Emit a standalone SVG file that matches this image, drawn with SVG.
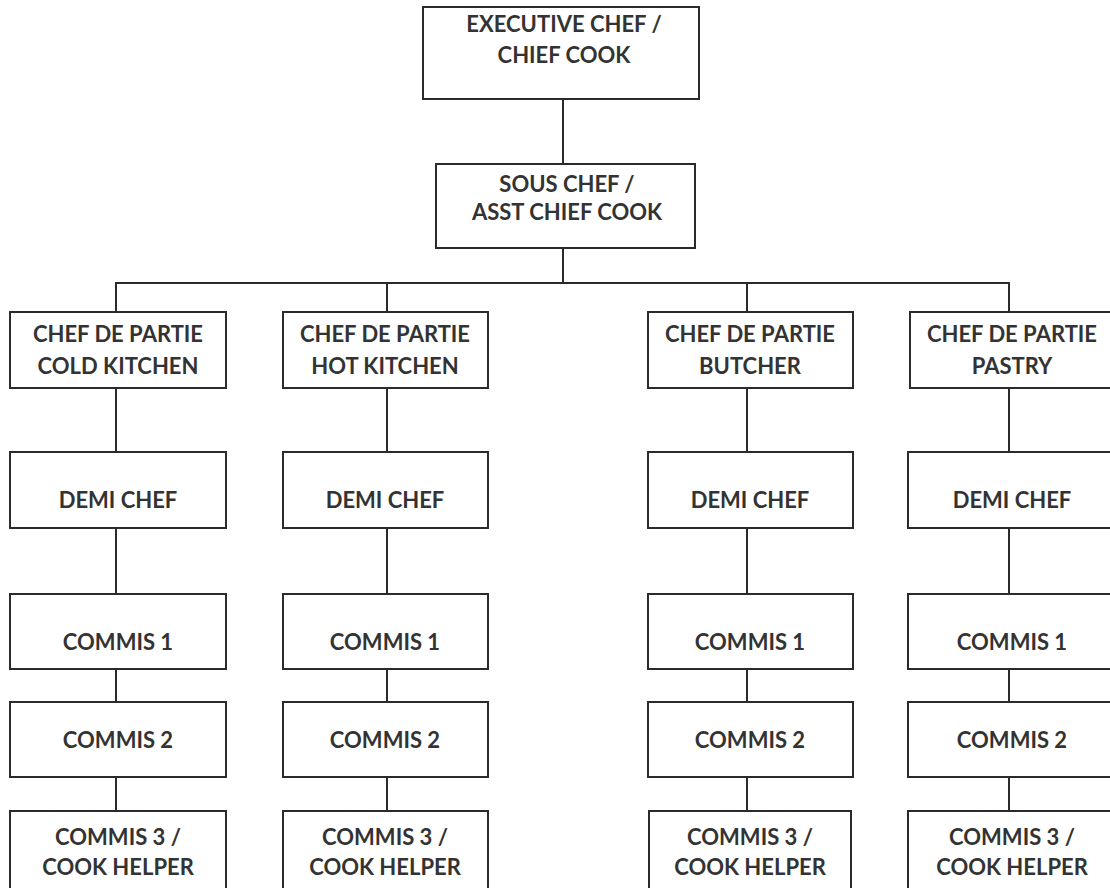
<svg xmlns="http://www.w3.org/2000/svg" width="1110" height="888" viewBox="0 0 1110 888">
<style>
.box{fill:#fff;stroke:#2b2b2b;stroke-width:2}
.t{font-family:Lato,"Open Sans","Liberation Sans",sans-serif;font-weight:bold;font-size:22px;fill:#333;text-anchor:middle}
.c{stroke:#2b2b2b;stroke-width:2;fill:none}
</style>
<rect width="1110" height="888" fill="#fff"/>
<g id="connectors">
<line class="c" x1="563" y1="99" x2="563" y2="164"/>
<line class="c" x1="563" y1="248" x2="563" y2="283"/>
<polyline class="c" points="116,312 116,283 1009,283 1009,312"/>
<line class="c" x1="387" y1="283" x2="387" y2="312"/>
<line class="c" x1="747" y1="283" x2="747" y2="312"/>
<line class="c" x1="116" y1="388" x2="116" y2="811"/>
<line class="c" x1="387" y1="388" x2="387" y2="811"/>
<line class="c" x1="747" y1="388" x2="747" y2="811"/>
<line class="c" x1="1009" y1="388" x2="1009" y2="811"/>
</g>
<g id="exec"><rect class="box" x="423" y="7" width="276" height="92"/><text class="t" x="564" y="32">EXECUTIVE CHEF /</text><text class="t" x="564" y="63">CHIEF COOK</text></g>
<g id="sous"><rect class="box" x="436" y="164" width="259" height="84"/><text class="t" x="567" y="192">SOUS CHEF /</text><text class="t" x="567" y="220">ASST CHIEF COOK</text></g>
<g id="cdp-cold"><rect class="box" x="10" y="312" width="216" height="76"/><text class="t" x="118" y="342">CHEF DE PARTIE</text><text class="t" x="118" y="374">COLD KITCHEN</text></g>
<g id="cdp-hot"><rect class="box" x="283" y="312" width="205" height="76"/><text class="t" x="385" y="342">CHEF DE PARTIE</text><text class="t" x="385" y="374">HOT KITCHEN</text></g>
<g id="cdp-butcher"><rect class="box" x="648" y="312" width="205" height="76"/><text class="t" x="750" y="342">CHEF DE PARTIE</text><text class="t" x="750" y="374">BUTCHER</text></g>
<g id="cdp-pastry"><rect class="box" x="910" y="312" width="210" height="76"/><text class="t" x="1012" y="342">CHEF DE PARTIE</text><text class="t" x="1012" y="374">PASTRY</text></g>
<g id="demi-cold"><rect class="box" x="10" y="452" width="216" height="76"/><text class="t" x="118" y="508">DEMI CHEF</text></g>
<g id="demi-hot"><rect class="box" x="283" y="452" width="205" height="76"/><text class="t" x="385" y="508">DEMI CHEF</text></g>
<g id="demi-butcher"><rect class="box" x="648" y="452" width="205" height="76"/><text class="t" x="750" y="508">DEMI CHEF</text></g>
<g id="demi-pastry"><rect class="box" x="908" y="452" width="212" height="76"/><text class="t" x="1012" y="508">DEMI CHEF</text></g>
<g id="c1-cold"><rect class="box" x="10" y="594" width="216" height="75"/><text class="t" x="118" y="650">COMMIS 1</text></g>
<g id="c1-hot"><rect class="box" x="283" y="594" width="205" height="75"/><text class="t" x="385" y="650">COMMIS 1</text></g>
<g id="c1-butcher"><rect class="box" x="648" y="594" width="205" height="75"/><text class="t" x="750" y="650">COMMIS 1</text></g>
<g id="c1-pastry"><rect class="box" x="908" y="594" width="212" height="75"/><text class="t" x="1012" y="650">COMMIS 1</text></g>
<g id="c2-cold"><rect class="box" x="10" y="702" width="216" height="75"/><text class="t" x="118" y="748">COMMIS 2</text></g>
<g id="c2-hot"><rect class="box" x="283" y="702" width="205" height="75"/><text class="t" x="385" y="748">COMMIS 2</text></g>
<g id="c2-butcher"><rect class="box" x="648" y="702" width="205" height="75"/><text class="t" x="750" y="748">COMMIS 2</text></g>
<g id="c2-pastry"><rect class="box" x="908" y="702" width="212" height="75"/><text class="t" x="1012" y="748">COMMIS 2</text></g>
<g id="c3-cold"><rect class="box" x="10" y="811" width="216" height="90"/><text class="t" x="118" y="845">COMMIS 3 /</text><text class="t" x="118" y="875">COOK HELPER</text></g>
<g id="c3-hot"><rect class="box" x="283" y="811" width="205" height="90"/><text class="t" x="385" y="845">COMMIS 3 /</text><text class="t" x="385" y="875">COOK HELPER</text></g>
<g id="c3-butcher"><rect class="box" x="649" y="811" width="202" height="90"/><text class="t" x="750" y="845">COMMIS 3 /</text><text class="t" x="750" y="875">COOK HELPER</text></g>
<g id="c3-pastry"><rect class="box" x="908" y="811" width="212" height="90"/><text class="t" x="1012" y="845">COMMIS 3 /</text><text class="t" x="1012" y="875">COOK HELPER</text></g>
</svg>
